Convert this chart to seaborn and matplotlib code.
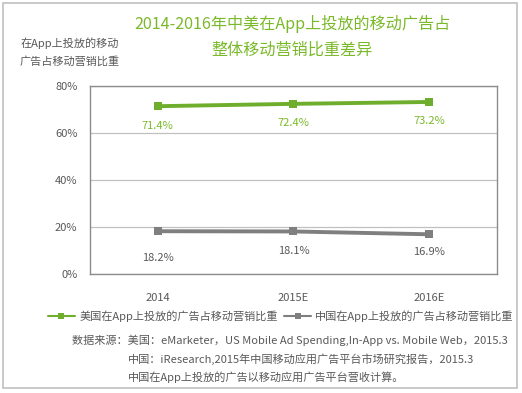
import matplotlib

matplotlib.use("Agg")
import matplotlib.pyplot as plt
import pandas as pd
import seaborn as sns
from matplotlib.lines import Line2D
from matplotlib.patches import Rectangle

# chart data
years = ["2014", "2015E", "2016E"]
us_share = [71.4, 72.4, 73.2]
cn_share = [18.2, 18.1, 16.9]
series_names = ["美国在App上投放的广告占移动营销比重", "中国在App上投放的广告占移动营销比重"]
y_ticks = [0, 20, 40, 60, 80]

title = "2014-2016年中美在App上投放的移动广告占\n整体移动营销比重差异"
y_label = "在App上投放的移动\n广告占移动营销比重"
source_lines = [
    "数据来源：美国：eMarketer，US Mobile Ad Spending,In-App vs. Mobile Web，2015.3",
    "中国：iResearch,2015年中国移动应用广告平台市场研究报告，2015.3",
    "中国在App上投放的广告以移动应用广告平台营收计算。",
]

df = pd.DataFrame(
    {
        "year": years * 2,
        "share": us_share + cn_share,
        "series": [series_names[0]] * 3 + [series_names[1]] * 3,
    }
)

sns.set_theme(style="white")
plt.rcParams["font.family"] = ["Noto Sans CJK SC", "DejaVu Sans"]

green = "#6fae2c"
green_txt = "#7ab929"
gray = "#7f7f7f"
txt = "#595959"

fig = plt.figure(figsize=(5.22, 3.93), dpi=100)
ax = fig.add_axes([0.1724, 0.3028, 0.7796, 0.4784])

ax = sns.lineplot(
    data=df,
    x="year",
    y="share",
    hue="series",
    palette=[green, gray],
    style="series",
    markers=["s", "s"],
    dashes=False,
    markersize=6,
    markeredgewidth=0,
    linewidth=2.8,
    ax=ax,
)

# data labels under each point
us_offsets = [-14, -14, -14]
cn_offsets = [-19, -14, -13]
for i, v in enumerate(us_share):
    ax.annotate(f"{v}%", (i, v), xytext=(0, us_offsets[i]), textcoords="offset points",
                ha="center", va="center", fontsize=8, color=green_txt)
for i, v in enumerate(cn_share):
    ax.annotate(f"{v}%", (i, v), xytext=(0, cn_offsets[i]), textcoords="offset points",
                ha="center", va="center", fontsize=8, color=txt)

ax.set_xlim(-0.5, 2.5)
ax.set_ylim(0, 80)
ax.set_yticks(y_ticks)
ax.set_yticklabels([f"{t}%" for t in y_ticks])
ax.yaxis.grid(True, color="#c0c0c0", linewidth=0.9)
ax.set_axisbelow(True)
for s in ax.spines.values():
    s.set_color("#8c8c8c")
    s.set_linewidth(1.0)
ax.tick_params(axis="y", length=0, pad=9, labelsize=8, labelcolor=txt)
ax.tick_params(axis="x", length=0, pad=14, labelsize=8, labelcolor=txt)
ax.set_xlabel("")
ax.set_ylabel("")

ax.get_legend().remove()
leg_handles = [
    Line2D([], [], color=green, linewidth=1.5, marker="s", markersize=4.5, markeredgewidth=0),
    Line2D([], [], color=gray, linewidth=1.5, marker="s", markersize=4.5, markeredgewidth=0),
]
fig.legend(leg_handles, series_names, loc="center", bbox_to_anchor=(281 / 522, 1 - 316 / 393),
           ncol=2, frameon=False, fontsize=8, labelcolor=txt, handlelength=2.4,
           handletextpad=0.4, columnspacing=0.6)

fig.text(292 / 522, 1 - 37 / 393, title, ha="center", va="center", fontsize=11.6,
         color=green_txt, linespacing=1.7)
fig.text(70 / 522, 1 - 52 / 393, y_label, ha="center", va="center", fontsize=8,
         color=txt, linespacing=1.75)

fig.text(72 / 522, 1 - 340 / 393, source_lines[0], ha="left", va="center", fontsize=8, color=txt)
fig.text(128 / 522, 1 - 359 / 393, source_lines[1], ha="left", va="center", fontsize=8, color=txt)
fig.text(128 / 522, 1 - 377 / 393, source_lines[2], ha="left", va="center", fontsize=8, color=txt)

fig.patches.append(Rectangle((3 / 522, 5 / 393), 514 / 522, 385 / 393, transform=fig.transFigure,
                             fill=False, edgecolor="#c0c0c0", linewidth=1.2))

fig.savefig("out.png", dpi=100)
